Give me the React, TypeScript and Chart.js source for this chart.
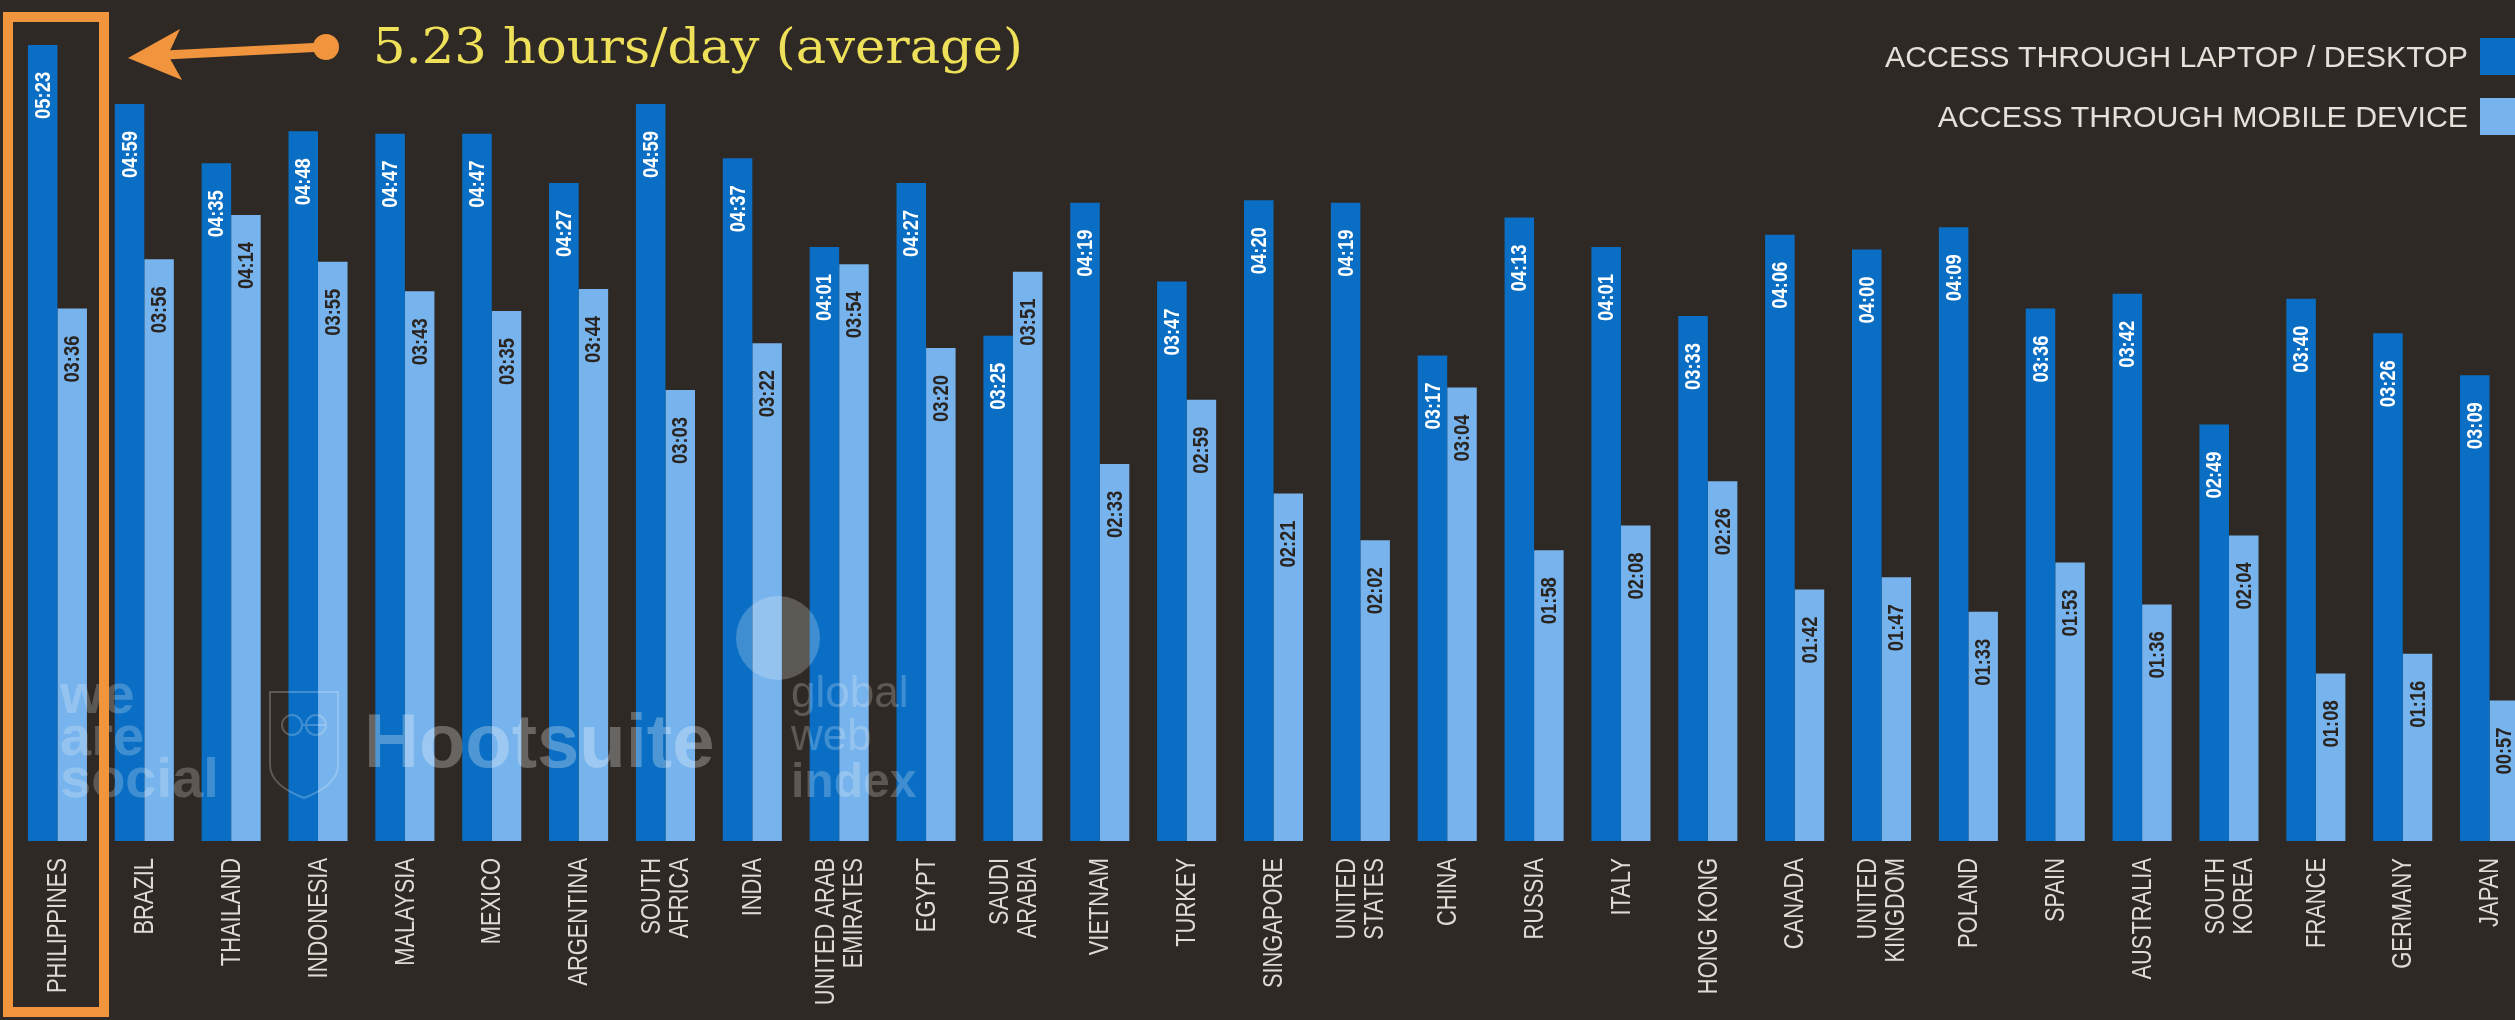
import React, { useEffect, useRef } from "react";
import { Chart, registerables } from "chart.js";

Chart.register(...registerables);

const countries: (string | string[])[] = [
  "PHILIPPINES", "BRAZIL", "THAILAND", "INDONESIA", "MALAYSIA", "MEXICO", "ARGENTINA",
  ["SOUTH", "AFRICA"], "INDIA", ["UNITED ARAB", "EMIRATES"], "EGYPT", ["SAUDI", "ARABIA"],
  "VIETNAM", "TURKEY", "SINGAPORE", ["UNITED", "STATES"], "CHINA", "RUSSIA", "ITALY",
  "HONG KONG", "CANADA", ["UNITED", "KINGDOM"], "POLAND", "SPAIN", "AUSTRALIA",
  ["SOUTH", "KOREA"], "FRANCE", "GERMANY", "JAPAN",
];

const laptopTime = [
  "05:23", "04:59", "04:35", "04:48", "04:47", "04:47", "04:27", "04:59", "04:37", "04:01",
  "04:27", "03:25", "04:19", "03:47", "04:20", "04:19", "03:17", "04:13", "04:01", "03:33",
  "04:06", "04:00", "04:09", "03:36", "03:42", "02:49", "03:40", "03:26", "03:09",
];

const mobileTime = [
  "03:36", "03:56", "04:14", "03:55", "03:43", "03:35", "03:44", "03:03", "03:22", "03:54",
  "03:20", "03:51", "02:33", "02:59", "02:21", "02:02", "03:04", "01:58", "02:08", "02:26",
  "01:42", "01:47", "01:33", "01:53", "01:36", "02:04", "01:08", "01:16", "00:57",
];

const seriesNames = ["ACCESS THROUGH LAPTOP / DESKTOP", "ACCESS THROUGH MOBILE DEVICE"];
const annotationText = "5.23 hours/day (average)";

const BG = "#2f2925";
const DARK_BLUE = "#0a6fc4";
const LIGHT_BLUE = "#77b3ec";
const ORANGE = "#f0953e";

const toMinutes = (s: string) => {
  const [h, m] = s.split(":").map(Number);
  return h * 60 + m;
};

const decorPlugin = {
  id: "decor",
  beforeDraw(chart: any) {
    const ctx = chart.ctx;
    ctx.save();
    ctx.fillStyle = BG;
    ctx.fillRect(0, 0, chart.width, chart.height);
    ctx.restore();
  },
  afterDatasetsDraw(chart: any) {
    const ctx: CanvasRenderingContext2D = chart.ctx;
    const xScale = chart.scales.x;

    // watermarks
    ctx.save();
    ctx.fillStyle = "rgba(255,255,255,0.22)";
    ctx.textAlign = "left";
    ctx.textBaseline = "alphabetic";
    ctx.font = 'bold 56px "Liberation Sans"';
    ctx.fillText("we", 60, 713);
    ctx.fillText("are", 60, 755);
    ctx.fillText("social", 60, 797);
    ctx.fillStyle = "rgba(255,255,255,0.28)";
    ctx.font = 'bold 76px "Liberation Sans"';
    ctx.fillText("Hootsuite", 364, 767);
    ctx.strokeStyle = "rgba(255,255,255,0.22)";
    ctx.lineWidth = 2;
    ctx.beginPath();
    ctx.moveTo(270, 692);
    ctx.lineTo(338, 692);
    ctx.lineTo(338, 765);
    ctx.quadraticCurveTo(338, 785, 304, 798);
    ctx.quadraticCurveTo(270, 785, 270, 765);
    ctx.closePath();
    ctx.stroke();
    ctx.beginPath();
    ctx.arc(292, 725, 10, 0, Math.PI * 2);
    ctx.arc(316, 725, 10, 0, Math.PI * 2);
    ctx.stroke();
    ctx.fillStyle = "rgba(255,255,255,0.22)";
    ctx.font = '44px "Liberation Sans"';
    ctx.fillText("global", 791, 707);
    ctx.fillText("web", 791, 750);
    ctx.font = 'bold 48px "Liberation Sans"';
    ctx.fillText("index", 791, 797);
    ctx.beginPath();
    ctx.arc(778, 638, 42, 0, Math.PI * 2);
    ctx.fill();
    ctx.restore();

    // value labels inside bars
    ctx.save();
    ctx.font = 'bold 22px "Liberation Sans"';
    const vsx = 47 / ctx.measureText("05:23").width;
    const texts = [laptopTime, mobileTime];
    chart.data.datasets.forEach((ds: any, di: number) => {
      const meta = chart.getDatasetMeta(di);
      meta.data.forEach((bar: any, i: number) => {
        ctx.save();
        ctx.translate(bar.x, bar.y + 27);
        ctx.rotate(-Math.PI / 2);
        ctx.scale(vsx, 1);
        ctx.fillStyle = di === 0 ? "#ffffff" : "#2a2420";
        ctx.textAlign = "right";
        ctx.textBaseline = "middle";
        ctx.fillText(texts[di][i], 0, 1);
        ctx.restore();
      });
    });
    ctx.restore();

    // category labels
    ctx.save();
    ctx.font = '28px "Liberation Sans"';
    const lsx = 135 / ctx.measureText("PHILIPPINES").width;
    ctx.fillStyle = "#dedad4";
    countries.forEach((lab, i) => {
      const lines = Array.isArray(lab) ? lab : [lab];
      const cx = xScale.getPixelForTick(i);
      const spacing = 28;
      lines.forEach((line, li) => {
        const off = (li - (lines.length - 1) / 2) * spacing;
        ctx.save();
        ctx.translate(cx + off, 858);
        ctx.rotate(-Math.PI / 2);
        ctx.scale(lsx, 1);
        ctx.textAlign = "right";
        ctx.textBaseline = "middle";
        ctx.fillText(line, 0, 1);
        ctx.restore();
      });
    });
    ctx.restore();

    // legend
    ctx.save();
    ctx.font = '30px "Liberation Sans"';
    const gsx = 583 / ctx.measureText(seriesNames[0]).width;
    const legendColors = [DARK_BLUE, LIGHT_BLUE];
    const baselines = [67, 127];
    seriesNames.forEach((name, i) => {
      ctx.save();
      ctx.translate(2468, baselines[i]);
      ctx.scale(gsx, 1);
      ctx.fillStyle = "#e4e0da";
      ctx.textAlign = "right";
      ctx.textBaseline = "alphabetic";
      ctx.fillText(name, 0, 0);
      ctx.restore();
      ctx.fillStyle = legendColors[i];
      ctx.fillRect(2480, baselines[i] - 29, 44, 37);
    });
    ctx.restore();

    // annotation
    ctx.save();
    ctx.font = '48px "DejaVu Serif"';
    const asx = 650 / ctx.measureText(annotationText).width;
    ctx.translate(373, 63);
    ctx.scale(asx, 1);
    ctx.fillStyle = "#efe05a";
    ctx.textAlign = "left";
    ctx.textBaseline = "alphabetic";
    ctx.fillText(annotationText, 0, 0);
    ctx.restore();

    // arrow
    ctx.save();
    ctx.strokeStyle = ORANGE;
    ctx.fillStyle = ORANGE;
    ctx.lineWidth = 9;
    ctx.lineCap = "round";
    ctx.beginPath();
    ctx.moveTo(324, 47);
    ctx.lineTo(165, 55);
    ctx.stroke();
    ctx.beginPath();
    ctx.arc(326, 47, 13, 0, Math.PI * 2);
    ctx.fill();
    ctx.beginPath();
    ctx.moveTo(128, 58);
    ctx.lineTo(180, 29);
    ctx.lineTo(168, 55);
    ctx.lineTo(182, 80);
    ctx.closePath();
    ctx.fill();
    // highlight box
    ctx.lineWidth = 10;
    ctx.lineCap = "butt";
    ctx.strokeRect(8, 17, 96, 995);
    ctx.restore();
  },
};

export default function App() {
  const canvasRef = useRef<HTMLCanvasElement | null>(null);

  useEffect(() => {
    const canvas = canvasRef.current;
    if (!canvas) return;
    const chart = new Chart(canvas, {
      type: "bar",
      data: {
        labels: countries as any,
        datasets: [
          {
            label: seriesNames[0],
            data: laptopTime.map(toMinutes),
            backgroundColor: DARK_BLUE,
            borderWidth: 0,
            categoryPercentage: 0.68,
            barPercentage: 1.0,
          },
          {
            label: seriesNames[1],
            data: mobileTime.map(toMinutes),
            backgroundColor: LIGHT_BLUE,
            borderWidth: 0,
            categoryPercentage: 0.68,
            barPercentage: 1.0,
          },
        ],
      },
      options: {
        responsive: false,
        animation: false,
        devicePixelRatio: 1,
        layout: { padding: { left: 14, right: 27, top: 3, bottom: 179 } },
        scales: {
          x: { display: false, offset: true },
          y: { display: false, min: 0, max: 340 },
        },
        plugins: {
          legend: { display: false },
          tooltip: { enabled: false },
        },
      },
      plugins: [decorPlugin],
    });
    return () => chart.destroy();
  }, []);

  return (
    <div
      style={{
        position: "fixed",
        left: 0,
        top: 0,
        width: 2515,
        height: 1020,
        overflow: "hidden",
        background: BG,
      }}
    >
      <canvas
        ref={canvasRef}
        width={2560}
        height={1020}
        style={{ display: "block", width: 2560, height: 1020 }}
      />
    </div>
  );
}
